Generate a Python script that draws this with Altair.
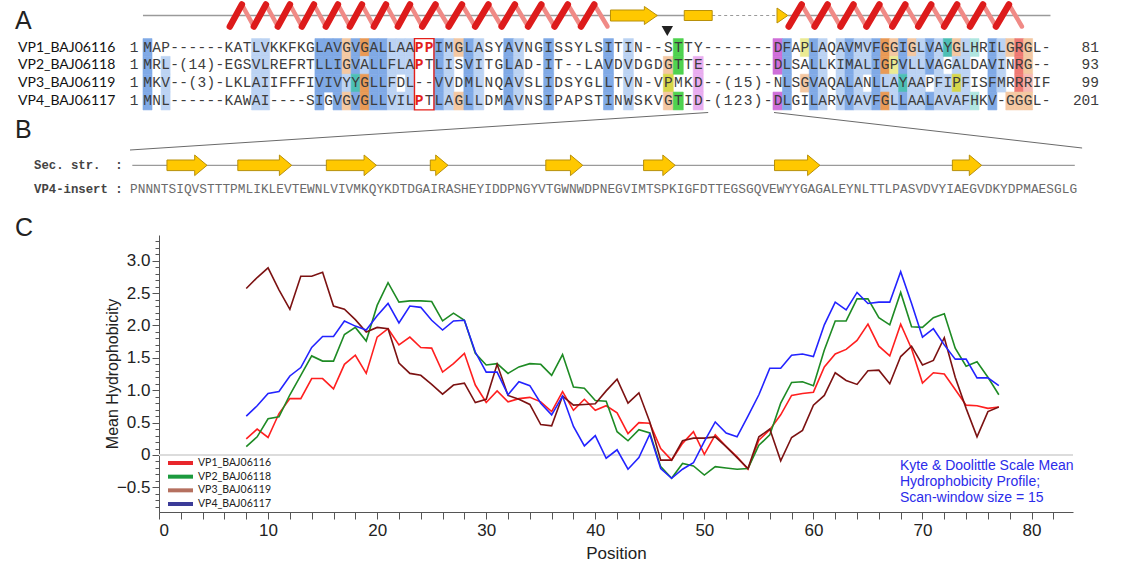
import altair as alt
import numpy as np
import pandas as pd

# ------------------------------------------------------------------ data
# Panel A : alignment
seq_names = ["VP1_BAJ06116", "VP2_BAJ06118", "VP3_BAJ06119", "VP4_BAJ06117"]
alignment = [
    "MAP------KATLVKKFKGLAVGVGALLAAPPIMGLASYAVNGISSYLSITIN--STTY-------DFAPLAQAVMVFGGIGLVAYGLHRILGRGL-",
    "MRL-(14)-EGSVLREFRTLLIGVALLFLAPTLISVITGLAD-IT--LAVDVDGDGTTE-------DLSALLKIMALIGPVLLVAGALDAVINRG--",
    "MKV--(3)-LKLAIIFFFIVIVYYGLLFDL--VVDMLNQAVSLIDSYGLLTVN-VPMKD--(15)-NLSGVAQALANLLAYAAPFIPFISFMRRRIF",
    "MNL------KAWAI----SIGVGVGLLVILPTLAGLLDMAVNSIPAPSTINWSKVGTID-(123)-DLGILARVVAVFGLLAALAVAFHKV-GGGL-",
]
start_numbers = ["1", "1", "1", "1"]
end_numbers = ["81", "93", "99", "201"]
red_cells = [(1, 30), (1, 31), (2, 30), (4, 30)]          # (row, column) of red prolines
boxed_columns = [30, 31]
# conservation colouring, one code per sequence row for each coloured column
shading = {
    0: "BBBB", 2: ".bbb", 12: "bbbb", 13: "bbbb",
    19: "BBBB", 20: "BBB.", 21: "BBBB", 22: "oobo", 23: "BBTB", 24: "ObOO",
    25: "BBBB", 26: "BBBB", 27: "bbbb", 28: "bb.b", 29: "bbbb",
    32: "BBBB", 33: "bbbb", 34: "o..o", 35: "BBBB", 36: "bbbb", 39: "BBBB", 40: "bbbb",
    43: "BBBB", 49: "BBBB", 51: "bbbb",
    55: ".oYo", 56: "GG.G", 58: ".mmm",
    66: "MM.M", 67: "BBBB", 69: "y.o.", 70: "BBBB", 71: "bbbb", 73: "bbbb", 74: "BBBB",
    75: "bbbb", 76: "bb.b", 77: "BBBB", 78: "OObO", 79: "oybb", 80: "BBTB", 81: "obbb",
    82: "bbbb", 83: "BB.B", 84: "bbbb", 85: "T.bb", 86: "obYb", 87: "bbbb", 88: "t..t",
    90: "BBBB", 91: "bbb.", 92: "o..o", 93: "RRRo", 94: "ooro",
}
shade_codes = ["B", "b", "O", "o", "M", "m", "G", "Y", "y", "T", "t", "R", "r"]
shade_colors = ["#80aae6", "#bcd3f3", "#e99a55", "#f4c8a2", "#cf6fd9", "#e9aef0",
                "#4fd24f", "#d6d64a", "#ebeb93", "#4dbfb5", "#b0e6e0", "#ef7a74", "#f6b9b3"]
# secondary structure above the alignment (alignment column units)
a_helices = [(9.1, 48.9, 15), (67.2, 93.3, 9)]
a_strands = [(49.2, 53.9)]
a_fragments = [(56.6, 59.4)]
a_heads = [(65.9, 67.1)]
a_gaps = [(59.4, 65.9)]
a_lines = [(-0.5, 56.6), (67.1, 96.5)]
a_marker = [54.9]

# Panel B : VP4 insert
insert_seq = ("PNNNTSIQVSTTTPMLIKLEVTEWNLVIVMKQYKDTDGAIRASHEYIDDPNGYVTGWNWDPNEGVIMTSPKIGFDTTEGSG"
              "QVEWYYGAGALEYNLTTLPASVDVYIAEGVDKYDPMAESGLG")
insert_strands = [(4.8, 10.0), (14.0, 21.0), (25.5, 32.0), (39.0, 41.3),
                  (54.0, 58.8), (66.7, 70.8), (83.7, 89.6), (106.8, 110.6)]

# Panel C : hydrophobicity profiles
positions = list(range(8, 78))
vp1 = [0.25, 0.40, 0.27, 0.64, 0.87, 0.87, 1.18, 1.18, 1.02, 1.40,
       1.54, 1.26, 1.82, 1.95, 1.70, 1.82, 1.66, 1.65, 1.28, 1.41,
       1.57, 1.08, 0.81, 0.99, 0.82, 0.87, 0.89, 0.82, 0.67, 0.98,
       0.69, 0.86, 0.69, 0.76, 0.65, 0.33, 0.50, 0.49, 0.10, -0.08,
       0.18, 0.36, 0.01, 0.31, 0.13, -0.03, -0.22, 0.23, 0.39, 0.62,
       0.92, 0.95, 0.97, 1.36, 1.56, 1.63, 1.77, 2.02, 1.68, 1.53,
       2.02, 1.64, 1.11, 1.27, 1.25, 1.01, 0.77, 0.76, 0.72, 0.74]
vp2 = [0.13, 0.28, 0.56, 0.59, 0.93, 1.23, 1.53, 1.45, 1.45, 1.86,
       1.97, 1.76, 2.31, 2.66, 2.36, 2.38, 2.38, 2.37, 2.07, 2.19,
       2.08, 1.57, 1.39, 1.41, 1.26, 1.36, 1.41, 1.40, 1.23, 1.55,
       1.05, 1.03, 0.84, 0.83, 0.36, 0.22, 0.39, 0.34, -0.18, -0.36,
       -0.13, -0.17, -0.31, -0.18, -0.20, -0.22, -0.21, 0.15, 0.31, 0.80,
       1.12, 1.13, 1.07, 1.62, 2.07, 2.07, 2.41, 2.41, 2.12, 2.01,
       2.51, 1.98, 1.97, 2.12, 2.18, 1.65, 1.37, 1.44, 1.20, 0.93]
vp3 = [2.57, 2.74, 2.89, 2.55, 2.25, 2.76, 2.76, 2.82, 2.30, 2.25,
       2.09, 1.90, 1.97, 1.95, 1.42, 1.26, 1.23, 1.09, 0.94, 1.08,
       1.11, 0.81, 0.86, 1.40, 0.92, 0.86, 0.78, 0.47, 0.45, 0.91,
       0.77, 0.78, 0.79, 0.99, 1.17, 0.80, 0.96, 0.51, -0.08, -0.08,
       0.22, 0.26, 0.26, 0.28, 0.13, -0.04, -0.21, 0.28, 0.40, -0.09,
       0.27, 0.38, 0.77, 0.92, 1.27, 1.15, 1.09, 1.30, 1.31, 1.10,
       1.52, 1.68, 1.39, 1.46, 1.81, 1.20, 0.72, 0.28, 0.67, 0.74]
vp4 = [0.60, 0.76, 0.95, 0.98, 1.22, 1.35, 1.66, 1.83, 1.83, 2.07,
       1.99, 1.93, 2.15, 2.34, 2.04, 2.30, 2.28, 2.08, 1.93, 2.07,
       2.08, 1.59, 1.28, 1.28, 0.93, 1.13, 1.07, 0.80, 0.62, 0.91,
       0.44, 0.14, 0.30, -0.05, 0.08, -0.22, -0.04, 0.32, -0.21, -0.36,
       -0.22, -0.12, 0.21, 0.51, 0.34, 0.28, 0.60, 0.93, 1.34, 1.34,
       1.54, 1.56, 1.52, 2.01, 2.36, 2.24, 2.51, 2.34, 2.36, 2.36,
       2.83, 2.34, 1.82, 1.95, 1.70, 1.48, 1.48, 1.19, 1.19, 1.07]
line_colors = ["#ff1f1f", "#1e8b24", "#7c1212", "#2323ff"]
legend_colors = ["#e8262b", "#1c9a3e", "#b5705f", "#3b3b98"]
annotation = ["Kyte & Doolittle Scale Mean", "Hydrophobicity Profile;", "Scan-window size = 15"]

# ------------------------------------------------------------------ layout
A_COLS = [0, 30, 66, 96]                 # alignment columns ...
A_PX = [147.5, 419.0, 778.0, 1046.0]     # ... and their pixel centres
B_X0, B_W = 130.0, 7.7                   # pixel left edge of the insert, residue pitch
ROW_Y0, ROW_PITCH = 47.5, 17.833


def r_of(px):
    return 1 + (px - ROW_Y0) / ROW_PITCH


def dr(px):
    return px / ROW_PITCH


def col_of(px):
    # inverse of the piecewise alignment scale, extrapolating at the ends
    if px < A_PX[0]:
        return (px - A_PX[0]) / ((A_PX[1] - A_PX[0]) / 30.0)
    if px > A_PX[-1]:
        return 96 + (px - A_PX[-1]) / ((A_PX[-1] - A_PX[-2]) / 30.0)
    return float(np.interp(px, A_PX, A_COLS))


def lin(domain, rng):
    return alt.Scale(domain=domain, range=rng, nice=False, zero=False)


XA = lin(A_COLS, A_PX)
YA = lin([1, 4], [ROW_Y0, ROW_Y0 + 3 * ROW_PITCH])
XB = lin([0, 123], [B_X0, B_X0 + 123 * B_W])
XC = lin([0, 83.8], [159, 1073])
YC = lin([-0.885, 3.397], [512.3, 235])

SS_Y = r_of(15.5)
HEL_TOP, HEL_BOT = r_of(4.5), r_of(26.5)
B_Y = r_of(165.3)

MONO = "Liberation Mono"
SANS = "Liberation Sans"

# ------------------------------------------------------------------ frames
cells = pd.DataFrame([
    {"row": r + 1, "col": c, "ch": ch, "red": (r + 1, c) in red_cells}
    for r, s in enumerate(alignment) for c, ch in enumerate(s)
])
shade_df = pd.DataFrame([
    {"row": r + 1, "col": c, "code": code}
    for c, codes in shading.items() for r, code in enumerate(codes) if code != "."
])
names_df = pd.DataFrame({"row": [1, 2, 3, 4], "name": seq_names,
                         "start": start_numbers, "end": end_numbers})


def helix_frame(helices):
    rows = []
    for c0, c1, n in helices:
        p = (c1 - c0) / n
        for i in range(n):
            xs = c0 + i * p
            rows.append({"x": xs, "x2": xs + 0.5 * p, "y": HEL_BOT, "y2": HEL_TOP, "part": "front"})
            rows.append({"x": xs + 0.5 * p, "x2": xs + p, "y": HEL_TOP, "y2": HEL_BOT, "part": "back"})
    return pd.DataFrame(rows)


def arrow_frame(items, yc, bh, hh, hl, body=True, head=True, tag="a"):
    rows = []
    for j, (x0, x1) in enumerate(items):
        pts = []
        if body:
            xh = x1 - hl if head else x1
            pts += [(x0, yc - bh, yc + bh), (xh, yc - bh, yc + bh)]
        else:
            xh = x0
        if head:
            pts += [(xh, yc - hh, yc + hh), (x1, yc, yc)]
        for x, lo, hi in pts:
            rows.append({"k": f"{tag}{j}", "x": x, "lo": lo, "hi": hi})
    return pd.DataFrame(rows)


hel = helix_frame(a_helices)
a_arrows = pd.concat([
    arrow_frame(a_strands, SS_Y, dr(5.5), dr(9.0), 1.3, tag="s"),
    arrow_frame(a_fragments, SS_Y, dr(5.0), dr(9.0), 0.0, head=False, tag="f"),
    arrow_frame(a_heads, SS_Y, dr(5.0), dr(7.5), 0.0, body=False, tag="h"),
])
b_arrows = arrow_frame(insert_strands, B_Y, dr(5.3), dr(10.3), 1.6, tag="b")
ins_df = pd.DataFrame({"i": list(range(len(insert_seq))), "ch": list(insert_seq)})

connectors = pd.DataFrame({
    "x": [59.0, 65.6],
    "x2": [col_of(B_X0), col_of(B_X0 + len(insert_seq) * B_W + 5)],
    "y": [r_of(112.5), r_of(112.5)],
    "y2": [r_of(150), r_of(148)],
})

prof = pd.DataFrame({
    "pos": positions * 4,
    "val": vp1 + vp2 + vp3 + vp4,
    "series": sum([[n] * len(positions) for n in seq_names], []),
})

# ------------------------------------------------------------------ layers
layers = []

# -- panel A secondary structure
layers.append(alt.Chart(pd.DataFrame({"x": [a[0] for a in a_lines], "x2": [a[1] for a in a_lines],
                                      "y": [SS_Y] * len(a_lines)}))
              .mark_rule(color="#9a9a9a", strokeWidth=1.3)
              .encode(x=alt.X("x:Q", scale=XA, axis=None), x2="x2:Q",
                      y=alt.Y("y:Q", scale=YA, axis=None)))
layers.append(alt.Chart(pd.DataFrame({"x": [g[0] for g in a_gaps], "x2": [g[1] for g in a_gaps],
                                      "y": [SS_Y] * len(a_gaps)}))
              .mark_rule(color="#9a9a9a", strokeWidth=1.2, strokeDash=[3, 3])
              .encode(x=alt.X("x:Q", scale=XA, axis=None), x2="x2:Q",
                      y=alt.Y("y:Q", scale=YA, axis=None)))
layers.append(alt.Chart(hel[hel.part == "back"])
              .mark_rule(color="#f08a86", strokeWidth=4.5, strokeCap="round")
              .encode(x=alt.X("x:Q", scale=XA, axis=None), x2="x2:Q",
                      y=alt.Y("y:Q", scale=YA, axis=None), y2="y2:Q"))
layers.append(alt.Chart(hel[hel.part == "front"])
              .mark_rule(color="#dd1b1b", strokeWidth=6.5, strokeCap="round")
              .encode(x=alt.X("x:Q", scale=XA, axis=None), x2="x2:Q",
                      y=alt.Y("y:Q", scale=YA, axis=None), y2="y2:Q"))
layers.append(alt.Chart(a_arrows)
              .mark_area(color="#ffc800", stroke="#b8900a", strokeWidth=1, opacity=1)
              .encode(x=alt.X("x:Q", scale=XA, axis=None),
                      y=alt.Y("lo:Q", scale=YA, axis=None, stack=None), y2="hi:Q",
                      detail="k:N"))
layers.append(alt.Chart(pd.DataFrame({"x": a_marker, "y": [r_of(31)] * len(a_marker)}))
              .mark_point(shape="triangle-down", filled=True, size=130, color="#222222", opacity=1)
              .encode(x=alt.X("x:Q", scale=XA, axis=None), y=alt.Y("y:Q", scale=YA, axis=None)))

# -- panel A alignment
layers.append(alt.Chart(shade_df)
              .transform_calculate(x0="datum.col - 0.5", x1="datum.col + 0.5",
                                   y0="datum.row - 0.5", y1="datum.row + 0.5")
              .mark_rect(strokeWidth=0.6, opacity=1)
              .encode(x=alt.X("x0:Q", scale=XA, axis=None), x2="x1:Q",
                      y=alt.Y("y0:Q", scale=YA, axis=None), y2="y1:Q",
                      color=alt.Color("code:N", scale=alt.Scale(domain=shade_codes, range=shade_colors),
                                      legend=None),
                      stroke=alt.Stroke("code:N", scale=alt.Scale(domain=shade_codes, range=shade_colors),
                                        legend=None)))
layers.append(alt.Chart(pd.DataFrame({"x": [boxed_columns[0] - 0.5], "x2": [boxed_columns[-1] + 0.5],
                                      "y": [0.5], "y2": [4.5]}))
              .mark_rect(fill=None, stroke="#e3201b", strokeWidth=1.4)
              .encode(x=alt.X("x:Q", scale=XA, axis=None), x2="x2:Q",
                      y=alt.Y("y:Q", scale=YA, axis=None), y2="y2:Q"))
layers.append(alt.Chart(cells[~cells.red])
              .mark_text(font=MONO, fontSize=14.5, color="#3c3c3c")
              .encode(x=alt.X("col:Q", scale=XA, axis=None), y=alt.Y("row:Q", scale=YA, axis=None),
                      text="ch:N"))
layers.append(alt.Chart(cells[cells.red])
              .mark_text(font=MONO, fontSize=14.5, fontWeight="bold", color="#e3201b")
              .encode(x=alt.X("col:Q", scale=XA, axis=None), y=alt.Y("row:Q", scale=YA, axis=None),
                      text="ch:N"))
layers.append(alt.Chart(names_df)
              .mark_text(font="Lato", fontSize=14, color="#111111", align="left")
              .encode(x=alt.value(18), y=alt.Y("row:Q", scale=YA, axis=None), text="name:N"))
layers.append(alt.Chart(names_df)
              .mark_text(font=MONO, fontSize=14.5, color="#3c3c3c")
              .encode(x=alt.value(134), y=alt.Y("row:Q", scale=YA, axis=None), text="start:N"))
layers.append(alt.Chart(names_df)
              .mark_text(font=MONO, fontSize=14.5, color="#3c3c3c", align="right")
              .encode(x=alt.value(1099), y=alt.Y("row:Q", scale=YA, axis=None), text="end:N"))
layers.append(alt.Chart(connectors)
              .mark_rule(color="#6a6a6a", strokeWidth=1)
              .encode(x=alt.X("x:Q", scale=XA, axis=None), x2="x2:Q",
                      y=alt.Y("y:Q", scale=YA, axis=None), y2="y2:Q"))

# -- panel B
layers.append(alt.Chart(pd.DataFrame({"x": [0.3], "x2": [122.7], "y": [B_Y]}))
              .mark_rule(color="#9a9a9a", strokeWidth=1.2)
              .encode(x=alt.X("x:Q", scale=XB, axis=None), x2="x2:Q",
                      y=alt.Y("y:Q", scale=YA, axis=None)))
layers.append(alt.Chart(b_arrows)
              .mark_area(color="#ffc800", stroke="#b8900a", strokeWidth=1, opacity=1)
              .encode(x=alt.X("x:Q", scale=XB, axis=None),
                      y=alt.Y("lo:Q", scale=YA, axis=None, stack=None), y2="hi:Q",
                      detail="k:N"))
layers.append(alt.Chart(ins_df).transform_calculate(xc="datum.i + 0.5")
              .mark_text(font=MONO, fontSize=12.8, color="#6a6a6a")
              .encode(x=alt.X("xc:Q", scale=XB, axis=None), y=alt.value(189), text="ch:N"))
for lab, ypx in [("Sec.\u00a0str.\u00a0\u00a0:", 165), ("VP4-insert\u00a0:", 189)]:
    layers.append(alt.Chart(pd.DataFrame({"t": [lab]}))
                  .mark_text(font=MONO, fontSize=12.3, fontWeight="bold", color="#444444", align="left")
                  .encode(x=alt.value(B_X0 - 96), y=alt.value(ypx), text="t:N"))

# -- panel letters
for lab, xpx, ypx in [("A", 15, 21), ("B", 15, 130), ("C", 15, 228)]:
    layers.append(alt.Chart(pd.DataFrame({"t": [lab]}))
                  .mark_text(font=SANS, fontSize=25, color="#222222", align="left")
                  .encode(x=alt.value(xpx), y=alt.value(ypx), text="t:N"))

# -- panel C
y_minor = alt.Axis(orient="left", offset=-159, values=[round(-0.8 + 0.1 * k, 1) for k in range(43)],
                   labels=False, domain=False, ticks=True, tickSize=4, tickColor="#555555",
                   grid=False, title=None)
layers.append(alt.Chart(pd.DataFrame({"v": [0.0], "a": [0.0], "b": [83.8]}))
              .mark_rule(color="#dcdcdc", strokeWidth=2)
              .encode(x=alt.X("a:Q", scale=XC, axis=None), x2="b:Q",
                      y=alt.Y("v:Q", scale=YC, axis=y_minor)))

x_axis = alt.Axis(orient="bottom", offset=-52, values=list(range(0, 83, 2)),
                  labelExpr="datum.value % 10 === 0 ? datum.label : ''", labelOverlap=False,
                  labelFont=SANS, labelFontSize=17, labelColor="#222222", labelPadding=3,
                  tickSize=7, tickColor="#555555", domainColor="#555555", grid=False,
                  title="Position", titleFont=SANS, titleFontSize=17, titleFontWeight="normal",
                  titleColor="#222222", titleX=616, titleY=41, titleAlign="center",
                  titleBaseline="middle")
y_axis = alt.Axis(orient="left", offset=-159, values=[-0.5, 0, 0.5, 1.0, 1.5, 2.0, 2.5, 3.0],
                  labelExpr="datum.value === 0 ? '0' : format(datum.value, '.1f')",
                  labelOverlap=False, labelFont=SANS, labelFontSize=17, labelColor="#222222",
                  labelPadding=2, tickSize=7, tickColor="#555555", domainColor="#555555",
                  grid=False, title="Mean Hydrophobicity", titleFont=SANS, titleFontSize=16,
                  titleFontWeight="normal", titleColor="#222222", titleX=-47, titleY=373.5,
                  titleAngle=-90, titleAlign="center", titleBaseline="middle")
layers.append(alt.Chart(prof)
              .mark_line(strokeWidth=1.6)
              .encode(x=alt.X("pos:Q", scale=XC, axis=x_axis),
                      y=alt.Y("val:Q", scale=YC, axis=y_axis),
                      color=alt.Color("series:N", scale=alt.Scale(domain=seq_names, range=line_colors),
                                      legend=None)))

leg_df = pd.DataFrame({"series": seq_names})
leg_y = alt.Y("series:N", scale=alt.Scale(type="point", domain=seq_names, range=[463, 504], padding=0),
              axis=None)
layers.append(alt.Chart(leg_df)
              .mark_rule(strokeWidth=4)
              .encode(x=alt.value(168), x2=alt.value(193), y=leg_y,
                      color=alt.Color("series:N", scale=alt.Scale(domain=seq_names, range=legend_colors),
                                      legend=None)))
layers.append(alt.Chart(leg_df)
              .mark_text(font="Lato", fontSize=10.5, color="#222222", align="left")
              .encode(x=alt.value(198), y=leg_y, text="series:N"))

ann_df = pd.DataFrame({"i": [0, 1, 2], "t": annotation})
layers.append(alt.Chart(ann_df)
              .mark_text(font=SANS, fontSize=14, color="#2b2bea", align="left")
              .encode(x=alt.value(900),
                      y=alt.Y("i:O", scale=alt.Scale(type="point", domain=[0, 1, 2], range=[466, 497.5],
                                                     padding=0), axis=None),
                      text="t:N"))

chart = (alt.layer(*layers)
         .resolve_scale(x="independent", y="independent", color="independent", stroke="independent")
         .properties(width=1125, height=564, autosize=alt.AutoSizeParams(type="none"),
                     padding=0, background="white")
         .configure_view(stroke=None))

chart.save("out.html", embed_options={"renderer": "svg", "actions": False})
